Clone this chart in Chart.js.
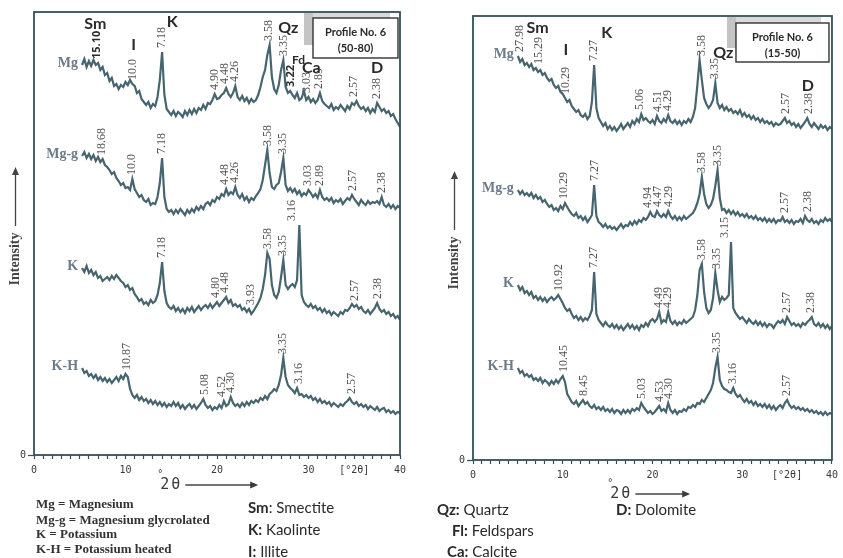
<!DOCTYPE html>
<html>
<head>
<meta charset="utf-8">
<script src="https://cdn.jsdelivr.net/npm/chart.js@4"></script>
<style>
  body { margin: 0; background: #fff; width: 843px; height: 558px; position: relative; overflow: hidden; }
  canvas { position: absolute; top: 0; }
  #left { left: 0; }
  #right { left: 420px; }
  .lg { position: absolute; white-space: nowrap; color: #333; }
  .ser { font: bold 13px "Liberation Serif"; line-height: 16px; }
  .san { font: 15px Lato; line-height: 18px; color: #2a2a2a; }
</style>
</head>
<body>
<canvas id="left" width="420" height="558"></canvas>
<canvas id="right" width="423" height="558"></canvas>

<div class="lg ser" style="left:36px;top:496px">Mg = Magnesium</div>
<div class="lg ser" style="left:36px;top:512px">Mg-g = Magnesium glycrolated</div>
<div class="lg ser" style="left:36px;top:526px">K = Potassium</div>
<div class="lg ser" style="left:36px;top:541px">K-H = Potassium heated</div>
<div class="lg san" style="left:248px;top:498px"><b>Sm</b>: Smectite</div>
<div class="lg san" style="left:248px;top:520px"><b>K:</b> Kaolinte</div>
<div class="lg san" style="left:248px;top:542px"><b>I:</b> Illite</div>
<div class="lg san" style="left:437px;top:500px"><b>Qz:</b> Quartz</div>
<div class="lg san" style="left:452px;top:521px"><b>Fl:</b> Feldspars</div>
<div class="lg san" style="left:447px;top:542px"><b>Ca:</b> Calcite</div>
<div class="lg san" style="left:616px;top:500px"><b>D:</b> Dolomite</div>

<script>
// ---------------------------------------------
// Diffractogram data (intensity, arbitrary units)
// one value every 0.25 °2θ
// ---------------------------------------------
const stepDeg = 0.25;
const startLeft = 5.25;   // profile 50-80
const startRight = 5.0;   // profile 15-50

// Profile No. 6 (50-80)
const mgLeft = [
  390, 396, 388, 394,  389, 395, 390, 392,  385, 388, 380, 382,  374, 377, 369, 371,
  366, 370, 368, 373,  370, 375, 371, 369,  362, 364, 356, 353,  350, 353, 347, 351,
  349, 358, 375, 403,  360, 346, 343, 340,  344, 339, 343, 341,  338, 344, 340, 345,
  341, 346, 342, 347,  345, 350, 346, 352,  351, 355, 361, 356,  357, 360, 362, 367,
  361, 358, 362, 369,  358, 355, 359, 354,  357, 352, 356, 353,  355, 360, 368, 378,
  385, 400, 410, 378,  366, 362, 370, 385,  395, 368, 362, 364,  360, 357, 362, 355,
  357, 364, 355, 358,  353, 356, 352, 355,  362, 354, 351, 349,  347, 351, 345, 348,
  346, 350, 347, 344,  349, 346, 352, 350,  354, 349, 346, 348,  344, 347, 342, 346,
  343, 352, 348, 344,  346, 342, 344, 339,  341, 336, 332, 328
];
const mggLeft = [
  299, 303, 297, 301,  296, 300, 294, 298,  293, 296, 290, 288,  285, 281, 283, 277,
  274, 270, 272, 267,  268, 265, 276, 266,  262, 258, 260, 255,  253, 256, 250, 252,
  251, 258, 272, 297,  258, 246, 243, 245,  241, 245, 242, 246,  243, 240, 245, 242,
  246, 243, 248, 245,  249, 246, 251, 253,  250, 255, 253, 258,  256, 261, 259, 266,
  260, 263, 261, 268,  260, 257, 261, 255,  258, 253, 257, 255,  259, 262, 266, 275,
  290, 305, 282, 268,  266, 270, 272, 283,  297, 270, 264, 267,  263, 266, 261, 264,
  259, 262, 260, 265,  262, 258, 261, 257,  265, 258, 255, 257,  254, 257, 252, 255,
  253, 256, 251, 254,  257, 255, 260, 256,  253, 250, 255, 252,  250, 254, 251, 253,
  252, 254, 251, 258,  250, 248, 251, 247,  250, 246, 249, 247
];
const kLeft = [
  187, 183, 189, 182,  185, 180, 183, 177,  179, 174, 176, 178,  175, 179, 176, 180,
  177, 174, 172, 168,  170, 165, 167, 161,  158, 154, 156, 151,  153, 150, 155, 152,
  154, 160, 172, 193,  164, 152, 148, 146,  149, 144, 147, 143,  146, 142, 147, 144,
  148, 143, 146, 149,  145, 148, 150, 147,  151, 147, 150, 153,  149, 152, 155, 158,
  152, 155, 149, 151,  148, 150, 145, 147,  143, 146, 141, 144,  148, 152, 157, 166,
  180, 202, 196, 170,  160, 157, 163, 178,  195, 170, 166, 169,  171, 168, 175, 230,
  160, 153, 150, 148,  151, 147, 149, 145,  147, 143, 146, 142,  144, 140, 143, 141,
  139, 143, 141, 145,  144, 147, 151, 148,  150, 146, 148, 144,  142, 145, 141, 144,
  147, 152, 146, 143,  145, 141, 143, 139,  141, 137, 139, 135
];
const khLeft = [
   87,  82,  84,  79,   81,  77,  80,  75,   78,  74,  77,  73,   76,  72,  75,  78,
   74,  79,  76,  81,   78,  66,  60,  57,   60,  55,  58,  54,   56,  52,  55,  51,
   54,  50,  53,  49,   52,  48,  51,  49,   53,  49,  52,  47,   50,  46,  49,  51,
   47,  50,  46,  49,   52,  56,  50,  47,   49,  45,  48,  46,   50,  47,  54,  49,
   51,  58,  52,  49,   51,  48,  52,  49,   53,  50,  54,  52,   55,  53,  57,  55,
   59,  56,  61,  63,   66,  64,  70,  80,   97,  78,  70,  67,   65,  62,  67,  60,
   61,  58,  60,  57,   59,  55,  57,  53,   56,  52,  54,  51,   53,  49,  52,  50,
   48,  51,  49,  52,   54,  57,  53,  51,   53,  49,  51,  48,   50,  46,  49,  47,
   45,  48,  44,  46,   47,  43,  45,  42,   44,  41,  43,  42
];

// Profile No. 6 (15-50)
const mgRight = [404,
  398, 401, 395, 397,  393, 396, 390, 392,  388, 390, 385, 387,  382, 379, 381, 375,
  372, 374, 368, 366,  362, 358, 360, 354,  351, 348, 350, 345,  343, 346, 341, 344,
  358, 395, 352, 342,  338, 334, 337, 331,  334, 330, 333, 329,  332, 336, 331, 334,
  337, 333, 339, 336,  341, 338, 346, 340,  342, 339, 337, 340,  336, 344, 339, 337,
  341, 338, 345, 339,  337, 340, 336, 339,  335, 339, 337, 341,  338, 343, 352, 375,
  400, 380, 362, 356,  352, 355, 360, 377,  357, 352, 355, 350,  353, 349, 351, 347,
  349, 346, 350, 344,  347, 343, 345, 341,  344, 340, 342, 338,  341, 337, 339, 336,
  338, 334, 337, 335,  336, 339, 342, 337,  339, 335, 337, 333,  336, 332, 335, 338,
  342, 336, 333, 337,  334, 331, 335, 332,  334, 330, 333, 331
];
const mggRight = [270,
  266, 269, 265, 267,  264, 267, 262, 265,  261, 263, 258, 260,  256, 253, 255, 250,
  252, 249, 254, 251,  257, 253, 249, 246,  244, 247, 242, 244,  240, 243, 238, 241,
  245, 275, 244, 238,  236, 233, 236, 232,  234, 231, 233, 230,  233, 236, 232, 235,
  234, 238, 235, 239,  236, 240, 238, 242,  240, 243, 248, 244,  243, 249, 245, 243,
  246, 243, 249, 244,  241, 244, 240, 243,  240, 244, 241, 243,  245, 247, 251, 257,
  266, 283, 266, 256,  252, 255, 261, 274,  290, 262, 250, 251,  247, 250, 246, 249,
  245, 248, 244, 246,  243, 246, 242, 244,  241, 244, 240, 242,  239, 242, 238, 241,
  238, 241, 237, 240,  239, 243, 238, 240,  237, 240, 236, 239,  238, 241, 237, 244,
  240, 238, 241, 237,  239, 236, 240, 238,  242, 239, 241, 238
];
const kRight = [175,
  170, 173, 167, 169,  165, 168, 162, 164,  160, 163, 159, 162,  158, 161, 163, 160,
  162, 165, 161, 157,  152, 149, 151, 146,  142, 144, 140, 143,  139, 142, 140, 144,
  150, 188, 146, 140,  137, 134, 138, 135,  133, 136, 132, 135,  131, 134, 130, 133,
  136, 132, 135, 131,  134, 130, 135, 133,  137, 134, 139, 141,  138, 141, 148, 137,
  140, 138, 148, 139,  136, 139, 135, 138,  136, 140, 137, 139,  141, 143, 150, 165,
  190, 196, 168, 152,  147, 150, 162, 187,  170, 158, 163, 160,  162, 165, 218, 152,
  147, 144, 141, 143,  140, 137, 141, 138,  136, 139, 135, 138,  134, 137, 133, 136,
  135, 132, 136, 139,  137, 140, 136, 143,  139, 135, 137, 134,  136, 133, 137, 135,
  138, 140, 143, 136,  134, 137, 133, 136,  132, 135, 131, 134
];
const khRight = [92,
   87,  89,  84,  86,   83,  85,  80,  82,   79,  82,  77,  80,   78,  75,  79,  76,
   80,  77,  81,  84,   78,  66,  62,  58,   56,  59,  54,  57,   60,  56,  58,  54,
   52,  55,  51,  53,   50,  53,  49,  51,   48,  51,  47,  50,   49,  46,  50,  47,
   50,  47,  51,  49,   52,  50,  57,  53,   50,  47,  49,  46,   48,  51,  54,  49,
   51,  48,  57,  50,   47,  50,  46,  49,   48,  51,  49,  53,   52,  55,  53,  57,
   56,  60,  58,  62,   66,  70,  77,  92,  103,  80,  74,  71,   70,  68,  67,  72,
   66,  63,  65,  61,   58,  61,  57,  59,   55,  58,  54,  56,   53,  56,  52,  55,
   51,  54,  50,  53,   55,  52,  57,  60,   55,  52,  54,  51,   53,  50,  52,  49,
   51,  48,  50,  47,   49,  46,  48,  45,   48,  45,  47,  46
];

// d-spacing labels: [°2θ of label, text, (°2θ of the peak it belongs to)]
const peaksMgLeft = [[6.9, "15.10"], [10.8, "10.0"], [14.0, "7.18"], [19.8, "4.90"], [20.9, "4.48"],
  [22.0, "4.26"], [25.7, "3.58"], [27.3, "3.35"], [28.1, "3.22"], [29.8, "3.03"], [31.1, "2.89"],
  [35.0, "2.57"], [37.5, "2.38"]];
const peaksMggLeft = [[7.4, "18.68"], [10.7, "10.0"], [14.0, "7.18"], [20.9, "4.48"], [22.0, "4.26"],
  [25.6, "3.58"], [27.2, "3.35"], [29.9, "3.03"], [31.2, "2.89"], [34.9, "2.57"], [38.0, "2.38"]];
const peaksKLeft = [[14.0, "7.18"], [19.9, "4.80"], [20.9, "4.48"], [23.7, "3.93"], [25.6, "3.58"],
  [27.2, "3.35"], [28.2, "3.16", 29.0], [35.1, "2.57"], [37.6, "2.38"]];
const peaksKhLeft = [[10.2, "10.87"], [18.7, "5.08"], [20.5, "4.52"], [21.5, "4.30"], [27.2, "3.35"],
  [28.9, "3.16"], [34.7, "2.57"]];

const peaksMgRight = [[5.25, "27.98"], [7.3, "15.29"], [10.3, "10.29"], [13.5, "7.27"], [18.6, "5.06"],
  [20.6, "4.51"], [21.7, "4.29"], [25.5, "3.58"], [27.0, "3.35"], [34.9, "2.57"], [37.4, "2.38"]];
const peaksMggRight = [[10.1, "10.29"], [13.6, "7.27"], [19.5, "4.94"], [20.6, "4.47"], [21.8, "4.29"],
  [25.55, "3.58"], [27.3, "3.35"], [34.7, "2.57"], [37.3, "2.38"]];
const peaksKRight = [[9.6, "10.92"], [13.5, "7.27"], [20.7, "4.49"], [21.7, "4.29"], [25.55, "3.58"],
  [27.2, "3.35"], [28.1, "3.15", 28.75], [35.0, "2.57"], [37.7, "2.38"]];
const peaksKhRight = [[10.1, "10.45"], [12.4, "8.45"], [18.8, "5.03"], [20.8, "4.53"], [21.8, "4.30"],
  [27.2, "3.35"], [28.9, "3.16"], [35.0, "2.57"]];

// mineral tags: [text, °2θ, intensity level]
const mineralsLeft = [["Sm", 6.7, 431], ["I", 10.9, 410], ["K", 15.1, 433], ["Qz", 27.8, 427],
  ["Fd", 28.9, 395], ["Ca", 30.3, 387], ["D", 37.5, 387]];
const mineralsRight = [["Sm", 7.2, 432], ["I", 10.35, 410], ["K", 14.9, 427], ["Qz", 27.9, 407],
  ["D", 37.3, 374]];

const xTickLabels = { 0: "0", 10: "10", 20: "20", 30: "30", 35: "[°2θ]", 40: "40" };
const boldPeaks = ["15.10", "3.22"];

// -------------------------------------
// Styles
// -------------------------------------
const FRAME = "#33505c";
const TRACE = "#46656e";
const NUM = "#555";
const INK = "#2a2a2a";
const SAMPLE = "#6b7b89";
const MONO = "'DejaVu Sans Mono'";

function makeGrid(start, n) {
  return Array.from({ length: n }, (_, i) => +(start + i * stepDeg).toFixed(2));
}

function nearMax(grid, vals, t) {
  let m = -Infinity;
  grid.forEach((g, i) => { if (Math.abs(g - t) <= 0.3) m = Math.max(m, vals[i]); });
  return m;
}

function arrowHead(ctx, x, y, dir) {
  ctx.beginPath();
  if (dir === "up") { ctx.moveTo(x, y); ctx.lineTo(x - 3.5, y + 8); ctx.lineTo(x + 3.5, y + 8); }
  else { ctx.moveTo(x, y); ctx.lineTo(x - 8, y - 3.5); ctx.lineTo(x - 8, y + 3.5); }
  ctx.closePath(); ctx.fill();
}

// everything drawn on top of the traces
const decor = {
  id: "decor",
  afterDatasetsDraw(chart, args, o) {
    const { ctx, chartArea: a, scales: { x, y } } = chart;
    ctx.save();

    ctx.strokeStyle = FRAME; ctx.lineWidth = 1.8;
    ctx.strokeRect(a.left, a.top, a.right - a.left, a.bottom - a.top);

    // profile box + grey shading
    const bx = a.right - o.boxRight - o.boxW, by = a.top + o.boxTop;
    ctx.fillStyle = "#c4c4c4";
    ctx.fillRect(bx - 9, a.top + 1, 9, o.boxH - 8);
    ctx.fillStyle = "#d9d9d9";
    ctx.fillRect(bx, a.top + 1, o.boxW - 8, o.boxTop - 1);
    ctx.fillStyle = "#fff"; ctx.fillRect(bx, by, o.boxW, o.boxH);
    ctx.lineWidth = 1.4; ctx.strokeStyle = "#333"; ctx.strokeRect(bx, by, o.boxW, o.boxH);
    ctx.fillStyle = INK; ctx.font = "bold 11px Lato";
    ctx.textAlign = "center"; ctx.textBaseline = "middle";
    ctx.fillText("Profile No. 6", bx + o.boxW / 2, by + 14);
    ctx.fillText(o.depth, bx + o.boxW / 2, by + 30);

    // sample names and d-spacings
    o.traces.forEach(tr => {
      ctx.font = "bold 14px 'Liberation Serif'"; ctx.fillStyle = SAMPLE;
      ctx.textAlign = "right"; ctx.textBaseline = "middle";
      ctx.fillText(tr.name, x.getPixelForValue(o.grid[0]) - 4, y.getPixelForValue(tr.values[0]) - 2);
      tr.peaks.forEach(p => {
        const top = nearMax(o.grid, tr.values, p[2] ?? p[0]);
        const bold = boldPeaks.includes(p[1]);
        ctx.save();
        ctx.translate(x.getPixelForValue(p[0]), y.getPixelForValue(top) - 4);
        ctx.rotate(-Math.PI / 2);
        ctx.font = bold ? "bold 11px 'Open Sans'" : "12px 'Liberation Serif'";
        ctx.fillStyle = bold ? INK : NUM;
        ctx.textAlign = "left"; ctx.textBaseline = "middle";
        ctx.fillText(p[1], 0, 0);
        ctx.restore();
      });
    });

    // mineral tags
    ctx.fillStyle = INK; ctx.textAlign = "center"; ctx.textBaseline = "middle";
    o.minerals.forEach(m => {
      ctx.font = m[0] === "Fd" ? "bold 12px Lato" : "bold 16px Lato";
      ctx.fillText(m[0], x.getPixelForValue(m[1]), y.getPixelForValue(m[2]));
    });

    // Intensity axis title with arrow
    const ix = a.left - 18.5;
    ctx.save();
    ctx.translate(ix, a.top + 247); ctx.rotate(-Math.PI / 2);
    ctx.font = "bold 14px 'Liberation Serif'"; ctx.fillStyle = "#444";
    ctx.fillText("Intensity", 0, 0);
    ctx.restore();
    ctx.strokeStyle = "#444"; ctx.fillStyle = "#444"; ctx.lineWidth = 1.3;
    ctx.beginPath(); ctx.moveTo(ix, a.top + 214); ctx.lineTo(ix, a.top + 160); ctx.stroke();
    arrowHead(ctx, ix, a.top + 155, "up");

    // 2θ title with arrow
    const tx = x.getPixelForValue(o.thetaAt), ty = a.bottom + o.thetaDy;
    ctx.font = "15px " + MONO; ctx.textAlign = "left"; ctx.fillStyle = "#3a3a3a";
    ctx.fillText("2", tx, ty);
    ctx.fillText("θ", tx + 11, ty);
    ctx.font = "10px " + MONO;
    ctx.fillText("°", tx - 3, ty - 11);
    const ax = x.getPixelForValue(o.arrowTo);
    ctx.beginPath(); ctx.moveTo(tx + 25, ty); ctx.lineTo(ax - 6, ty); ctx.stroke();
    arrowHead(ctx, ax, ty, "right");

    ctx.restore();
  }
};

function drawPanel(id, panel) {
  const grid = panel.grid;
  new Chart(document.getElementById(id), {
    type: "line",
    data: {
      datasets: panel.traces.map(tr => ({
        label: tr.name,
        data: grid.map((t, i) => ({ x: t, y: tr.values[i] })),
        borderColor: TRACE,
        borderWidth: 2.2,
        pointRadius: 0,
        tension: 0
      }))
    },
    options: {
      responsive: false,
      animation: false,
      layout: { padding: panel.padding },
      plugins: { legend: { display: false }, tooltip: { enabled: false }, decor: panel },
      scales: {
        x: {
          type: "linear", min: 0, max: 40,
          afterFit: s => { s.height = 22; },
          ticks: {
            stepSize: 1, autoSkip: false, maxRotation: 0, padding: 5,
            font: { family: "DejaVu Sans Mono", size: 10 }, color: "#3a3a3a",
            callback: v => xTickLabels[v] ?? ""
          },
          grid: { drawOnChartArea: false, tickLength: 4, tickColor: FRAME, tickWidth: 1.2 },
          border: { display: false }
        },
        y: {
          min: 0, max: panel.yMax,
          afterFit: s => { s.width = 34; },
          afterBuildTicks: s => { s.ticks = [{ value: 0 }]; },
          ticks: { padding: 2, font: { family: "DejaVu Sans Mono", size: 10 }, color: "#3a3a3a" },
          grid: { drawOnChartArea: false, tickLength: 6, tickColor: FRAME, tickWidth: 1.2 },
          border: { display: false }
        }
      }
    },
    plugins: [decor]
  });
}

drawPanel("left", {
  grid: makeGrid(startLeft, mgLeft.length),
  yMax: 443,
  padding: { left: 0, right: 20, top: 12, bottom: 81 },
  traces: [
    { name: "Mg", values: mgLeft, peaks: peaksMgLeft },
    { name: "Mg-g", values: mggLeft, peaks: peaksMggLeft },
    { name: "K", values: kLeft, peaks: peaksKLeft },
    { name: "K-H", values: khLeft, peaks: peaksKhLeft }
  ],
  minerals: mineralsLeft,
  depth: "(50-80)",
  boxW: 85, boxH: 40, boxTop: 6, boxRight: 2,
  thetaAt: 13.8, thetaDy: 30, arrowTo: 24.5
});

drawPanel("right", {
  grid: makeGrid(startRight, mgRight.length),
  yMax: 444,
  padding: { left: 19, right: 7, top: 16, bottom: 76 },
  traces: [
    { name: "Mg", values: mgRight, peaks: peaksMgRight },
    { name: "Mg-g", values: mggRight, peaks: peaksMggRight },
    { name: "K", values: kRight, peaks: peaksKRight },
    { name: "K-H", values: khRight, peaks: peaksKhRight }
  ],
  minerals: mineralsRight,
  depth: "(15-50)",
  boxW: 93, boxH: 39, boxTop: 7, boxRight: 3,
  thetaAt: 15.3, thetaDy: 34, arrowTo: 24.2
});
</script>
</body>
</html>
